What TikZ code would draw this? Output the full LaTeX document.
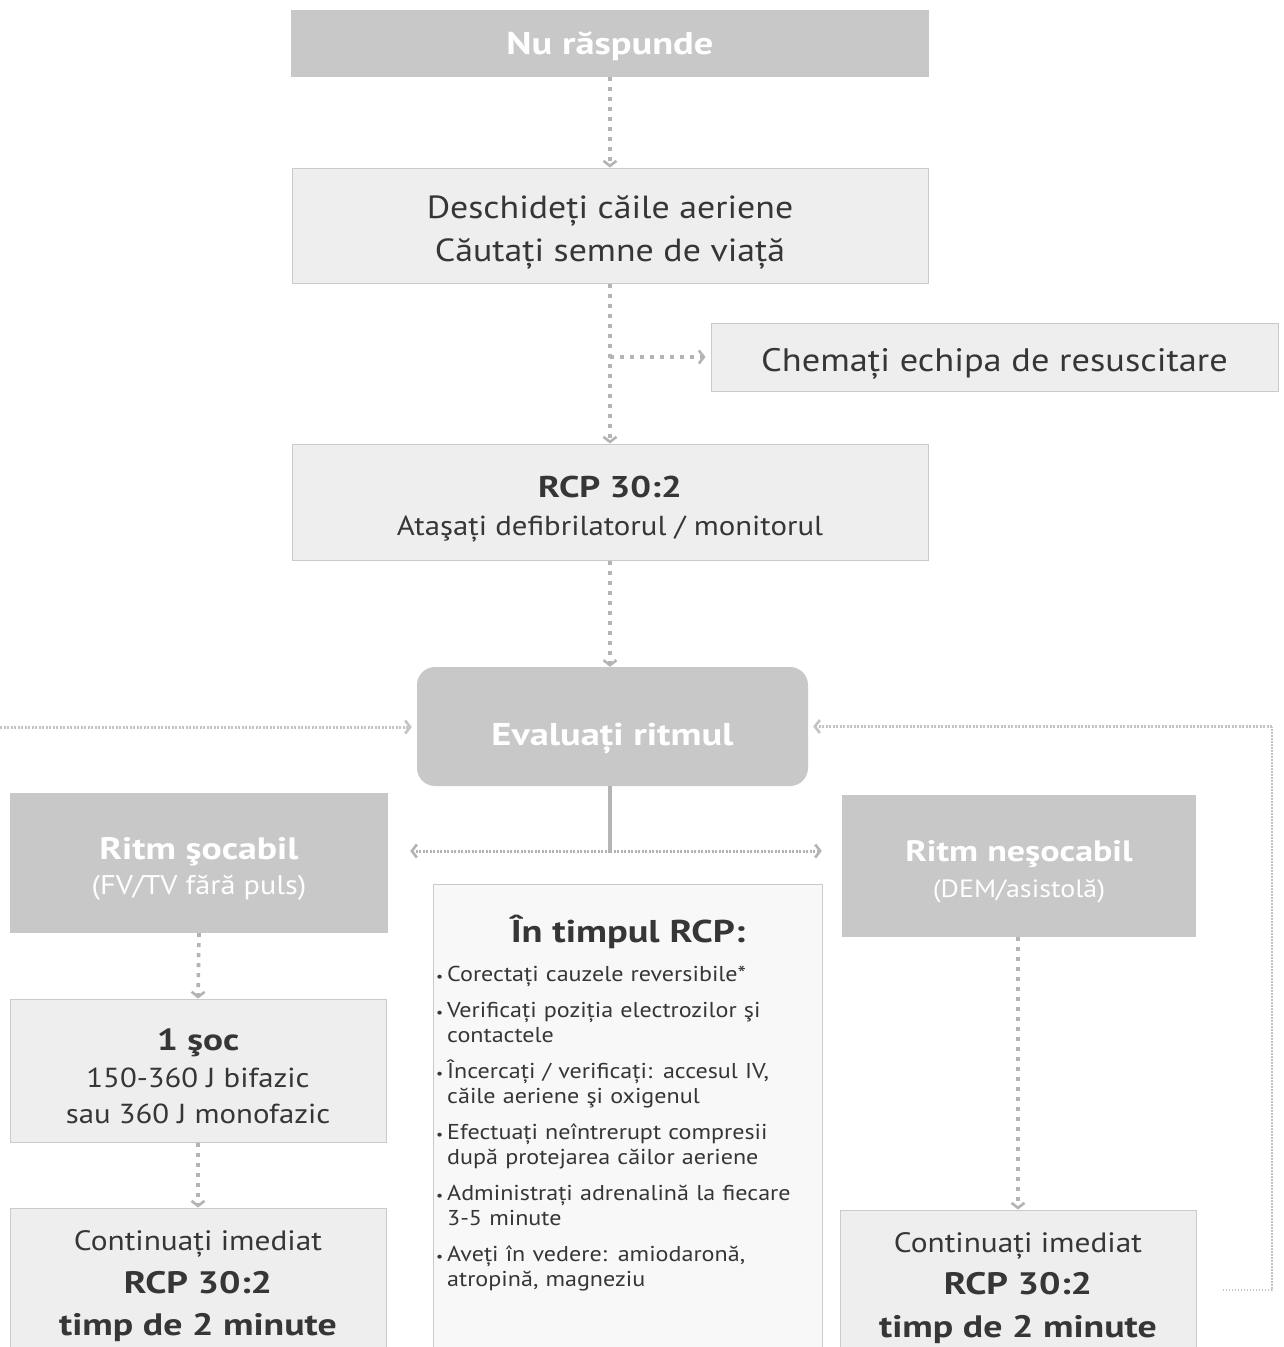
\documentclass[tikz,border=0pt]{standalone}
\usepackage{fontspec}
\setmainfont{PT Sans}[UprightFeatures={FakeStretch=1.12}, BoldFeatures={FakeStretch=1.22}]
\usetikzlibrary{arrows.meta}
\definecolor{darkbox}{HTML}{C8C8C8}
\definecolor{lightbox}{HTML}{EEEEEE}
\definecolor{boxline}{HTML}{CACACA}
\definecolor{txt}{HTML}{363636}
\definecolor{arrowgray}{HTML}{B4B4B4}
\definecolor{loopgray}{HTML}{C4C4C4}
\tikzset{
  darkstyle/.style={rectangle, fill=darkbox, draw=none, inner sep=0pt},
  lightstyle/.style={rectangle, fill=lightbox, draw=boxline, line width=1pt, inner sep=0pt},
  whitetext/.style={text=white, align=center, inner sep=0pt},
  darktext/.style={text=txt, align=center, inner sep=0pt},
  tip/.style={-{Straight Barb[length=5pt,width=13pt,line width=2.6pt]}},
  conn/.style={draw=arrowgray, line width=3.6pt, dash pattern=on 4pt off 6pt, tip},
  connh/.style={draw=arrowgray, line width=3pt, dash pattern=on 2pt off 1.5pt, tip},
  connsolid/.style={draw=arrowgray, line width=3.6pt},
  loopline/.style={draw=loopgray, line width=2.4pt, dash pattern=on 1.5pt off 1.5pt},
}
\newcommand\bul{\hangindent=11pt\hangafter=1\noindent\makebox[11pt][l]{\fontsize{14}{14}\selectfont•}}
\begin{document}
\begin{tikzpicture}[x=1pt,y=-1pt]
\useasboundingbox[fill=white] (0,0) rectangle (1284,1347);

% boxes
\node[darkstyle, minimum width=638pt, minimum height=67pt] (nu) at (610,43.5) {};
\node[whitetext, font=\fontsize{31.5}{36}\selectfont\bfseries] (nut) at ([yshift=-3pt]nu.center) {Nu răspunde};

\node[lightstyle, minimum width=636pt, minimum height=115pt] (desc) at (610,225.5) {};
\node[darktext, font=\fontsize{32}{43}\selectfont] (desct) at ([yshift=-7pt]desc.center) {Deschideți căile aeriene\\Căutați semne de viață};

\node[lightstyle, minimum width=567pt, minimum height=68pt] (chem) at (994.5,357) {};
\node[darktext, font=\fontsize{32.5}{38}\selectfont] (chemt) at ([yshift=-7pt]chem.center) {Chemați echipa de resuscitare};

\node[lightstyle, minimum width=636pt, minimum height=116pt] (rcp) at (610,502) {};
\node[darktext, font=\fontsize{27.5}{38}\selectfont] (rcpt) at ([yshift=-7pt]rcp.center) {{\fontsize{30}{38}\selectfont\bfseries RCP 30:2}\\Ataşați defibrilatorul / monitorul};

\node[darkstyle, rounded corners=18pt, minimum width=391pt, minimum height=119pt] (eval) at (612.5,726.5) {};
\node[whitetext, font=\fontsize{31.5}{36}\selectfont\bfseries] (evalt) at ([yshift=-12pt]eval.center) {Evaluați ritmul};

\node[darkstyle, minimum width=378pt, minimum height=140pt] (soc) at (199,863) {};
\node[whitetext, font=\fontsize{27}{35}\selectfont] (soct) at ([yshift=-6pt]soc.center) {{\fontsize{31}{35}\selectfont\bfseries Ritm şocabil}\\(FV/TV fără puls)};

\node[darkstyle, minimum width=354pt, minimum height=142pt] (nesoc) at (1019,866) {};
\node[whitetext, font=\fontsize{25}{36}\selectfont] (nesoct) at ([yshift=-5.5pt]nesoc.center) {{\fontsize{29.5}{36}\selectfont\bfseries Ritm neşocabil}\\(DEM/asistolă)};

\node[lightstyle, minimum width=376pt, minimum height=143pt] (one) at (198,1070.5) {};
\node[darktext, font=\fontsize{27.5}{36.5}\selectfont] (onet) at (198,1076.5) {{\fontsize{30.5}{36.5}\selectfont\bfseries 1 şoc}\\150-360 J bifazic\\sau 360 J monofazic};

\node[lightstyle, minimum width=376pt, minimum height=152pt] (contL) at (198,1284) {};
\node[darktext, font=\fontsize{28}{42.5}\selectfont] (contLt) at ([yshift=-2.5pt]contL.center) {Continuați imediat\\{\fontsize{31}{42.5}\selectfont\bfseries RCP 30:2}\\{\fontsize{31}{42.5}\selectfont\bfseries timp de 2 minute}};

\node[lightstyle, minimum width=356pt, minimum height=151pt] (contR) at (1018,1285.5) {};
\node[darktext, font=\fontsize{28}{42.5}\selectfont] (contRt) at ([yshift=-2.5pt]contR.center) {Continuați imediat\\{\fontsize{31}{42.5}\selectfont\bfseries RCP 30:2}\\{\fontsize{31}{42.5}\selectfont\bfseries timp de 2 minute}};

\node[lightstyle, fill=white!60!lightbox, minimum width=389pt, minimum height=476pt] (intimp) at (627.5,1122) {};
\node[darktext, font=\fontsize{31.5}{36}\selectfont\bfseries] (intitle) at (628,932) {În timpul RCP:};
\node[text=txt, anchor=north west, inner sep=0pt, text width=385pt, align=left, font=\fontsize{21.5}{25}\selectfont] (inlist) at (436,966) {%
\bul Corectați cauzele reversibile*\par\vspace{11pt}
\bul Verificați poziția electrozilor şi\newline contactele\par\vspace{11pt}
\bul Încercați / verificați: accesul IV,\newline căile aeriene şi oxigenul\par\vspace{11pt}
\bul Efectuați neîntrerupt compresii\newline după protejarea căilor aeriene\par\vspace{11pt}
\bul Administrați adrenalină la fiecare\newline 3-5 minute\par\vspace{11pt}
\bul Aveți în vedere: amiodaronă,\newline atropină, magneziu\par};

% connectors
\draw[conn] (nu.south) -- (desc.north);
\draw[conn] (desc.south) -- (rcp.north);
\coordinate (br) at (610,357);
\draw[conn, shorten >=5pt] (br) -- (chem.west);
\draw[conn] (rcp.south) -- (rcp.south |- eval.north);

\coordinate (j) at (610,851);
\draw[connsolid] (eval.south -| j) -- (j);
\draw[connh, shorten >=22pt] (j) -- (soc.east |- j);
\draw[connh, shorten >=20pt] (j) -- (nesoc.west |- j);

\draw[conn] (soc.south) -- (one.north);
\draw[conn] (one.south) -- (contL.north);
\draw[conn] (nesoc.south -| contR.north) -- (contR.north);

% loop-backs
\coordinate (lin) at (0,727);
\draw[connh, draw=loopgray, shorten >=5pt] (lin) -- (eval.west |- lin);
\coordinate (rb) at (1272,1290);
\draw[loopline] ([xshift=26pt]contR.east |- rb) -- (rb) -- (rb |- eval.east);
\draw[connh, draw=loopgray, shorten >=5pt] (rb |- eval.east) -- (eval.east);
\end{tikzpicture}
\end{document}
